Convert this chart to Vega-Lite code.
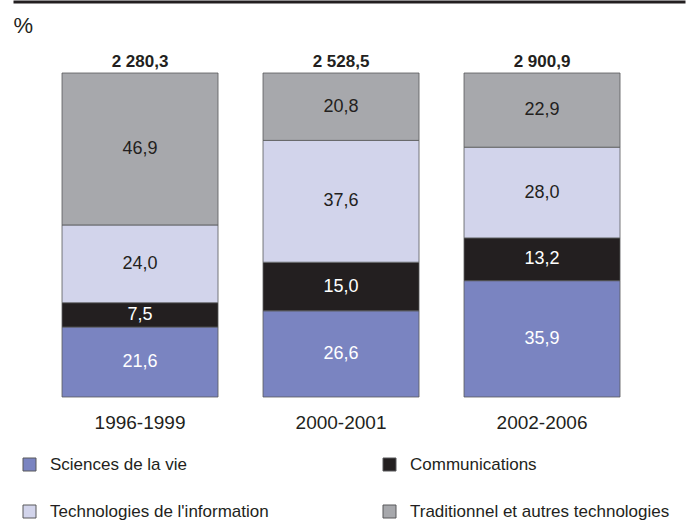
{
  "$schema": "https://vega.github.io/schema/vega-lite/v6.json",
  "autosize": {"type": "none"},
  "width": 672,
  "height": 324,
  "padding": {"left": 13, "top": 73, "right": 11, "bottom": 124},
  "background": "white",
  "config": {
    "locale": {"number": {"decimal": ",", "thousands": " ", "grouping": [3], "currency": ["", " €"]}},
    "view": {"stroke": null},
    "font": "Liberation Sans",
    "text": {"font": "Liberation Sans"},
    "axisY": {
      "title": "%", "labels": false, "ticks": false, "domain": false, "grid": false,
      "titleAngle": 0, "titleAlign": "left", "titleBaseline": "alphabetic",
      "titleX": 0, "titleY": -41, "titleFontSize": 22, "titleFontWeight": "normal",
      "titleColor": "#231f20", "titleFont": "Liberation Sans"
    }
  },
  "datasets": {
    "parts": [
      {"periode": "1996-1999", "cat": "Sciences de la vie", "ordre": 1, "pct": 21.6},
      {"periode": "1996-1999", "cat": "Communications", "ordre": 2, "pct": 7.5},
      {"periode": "1996-1999", "cat": "Technologies de l'information", "ordre": 3, "pct": 24.0},
      {"periode": "1996-1999", "cat": "Traditionnel et autres technologies", "ordre": 4, "pct": 46.9},
      {"periode": "2000-2001", "cat": "Sciences de la vie", "ordre": 1, "pct": 26.6},
      {"periode": "2000-2001", "cat": "Communications", "ordre": 2, "pct": 15.0},
      {"periode": "2000-2001", "cat": "Technologies de l'information", "ordre": 3, "pct": 37.6},
      {"periode": "2000-2001", "cat": "Traditionnel et autres technologies", "ordre": 4, "pct": 20.8},
      {"periode": "2002-2006", "cat": "Sciences de la vie", "ordre": 1, "pct": 35.9},
      {"periode": "2002-2006", "cat": "Communications", "ordre": 2, "pct": 13.2},
      {"periode": "2002-2006", "cat": "Technologies de l'information", "ordre": 3, "pct": 28.0},
      {"periode": "2002-2006", "cat": "Traditionnel et autres technologies", "ordre": 4, "pct": 22.9}
    ],
    "totaux": [
      {"periode": "1996-1999", "total": 2280.3},
      {"periode": "2000-2001", "total": 2528.5},
      {"periode": "2002-2006", "total": 2900.9}
    ]
  },
  "layer": [
    {
      "data": {"name": "parts"},
      "mark": {"type": "bar", "stroke": "#58595b", "strokeWidth": 0.8},
      "encoding": {
        "x": {
          "field": "periode", "type": "nominal", "sort": null,
          "scale": {"paddingInner": 0.2239, "paddingOuter": 0.2836, "align": 0.43},
          "axis": {
            "orient": "bottom", "title": null, "labelAngle": 0, "domain": false, "ticks": false,
            "labelFontSize": 19, "labelColor": "#231f20", "labelPadding": 16, "labelFont": "Liberation Sans"
          }
        },
        "y": {
          "field": "pct", "type": "quantitative", "stack": "zero", "title": "%",
          "scale": {"domain": [0, 100], "nice": false}
        },
        "order": {"field": "ordre", "type": "quantitative"},
        "color": {
          "field": "cat", "type": "nominal",
          "scale": {
            "domain": ["Sciences de la vie", "Technologies de l'information", "Communications", "Traditionnel et autres technologies"],
            "range": ["#7a84c1", "#d2d4eb", "#231f20", "#a7a8ac"]
          },
          "legend": {
            "orient": "none", "legendX": 8, "legendY": 383, "columns": 2, "columnPadding": 112,
            "rowPadding": 29, "title": null, "symbolType": "square", "symbolSize": 169,
            "symbolStrokeColor": "#58595b", "symbolStrokeWidth": 1, "symbolOpacity": 1,
            "labelFontSize": 17, "labelOffset": 12, "labelColor": "#231f20", "labelFont": "Liberation Sans",
            "gridAlign": "each", "labelLimit": 400
          }
        }
      }
    },
    {
      "data": {"name": "parts"},
      "mark": {"type": "text", "baseline": "middle", "align": "center", "fontSize": 18},
      "encoding": {
        "x": {"field": "periode", "type": "nominal", "sort": null, "axis": null},
        "y": {"field": "pct", "type": "quantitative", "stack": "zero", "bandPosition": 0.5, "title": "%"},
        "detail": {"field": "cat", "type": "nominal"},
        "order": {"field": "ordre", "type": "quantitative"},
        "text": {"field": "pct", "type": "quantitative", "format": ".1f"},
        "color": {
          "condition": {"test": "datum.ordre <= 2", "value": "#ffffff"},
          "value": "#231f20"
        }
      }
    },
    {
      "data": {"name": "totaux"},
      "mark": {"type": "text", "baseline": "alphabetic", "align": "center", "fontSize": 17, "fontWeight": 600, "dy": -6, "color": "#231f20"},
      "encoding": {
        "x": {
          "field": "periode", "type": "nominal", "sort": null,
          "axis": {
            "orient": "top", "title": null, "labels": false, "ticks": false, "grid": false,
            "domain": true, "domainWidth": 3, "domainColor": "#231f20", "offset": 71.5
          }
        },
        "y": {"datum": 100, "type": "quantitative", "title": "%"},
        "text": {"field": "total", "type": "quantitative", "format": ",.1f"}
      }
    }
  ],
  "resolve": {"axis": {"x": "independent"}}
}
